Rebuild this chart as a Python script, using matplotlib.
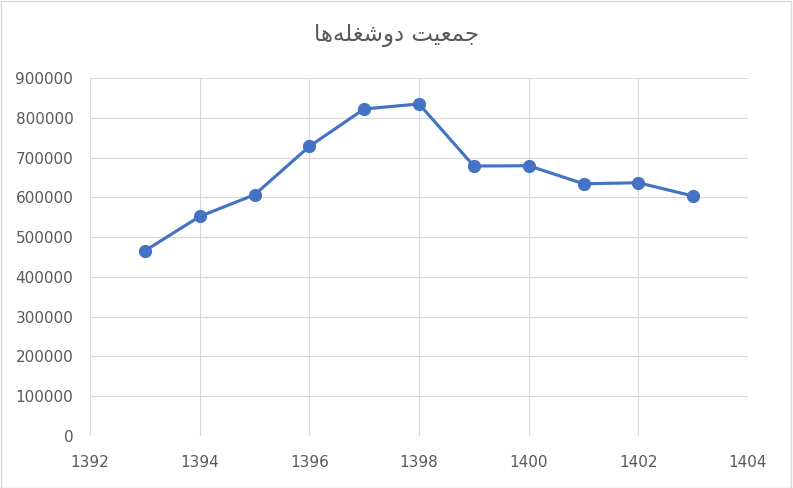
import matplotlib.pyplot as plt
from matplotlib.patches import Rectangle

# داده‌ها
years = [1393, 1394, 1395, 1396, 1397, 1398, 1399, 1400, 1401, 1402, 1403]
values = [465500, 551800, 606400, 728000, 822100, 834700, 678600, 679400, 634100, 636600, 603200]
title = "جمعیت دوشغله‌ها"

# matplotlib letters are not joined, so build the presentation forms by hand
# (isolated, final, initial, medial); None = letter does not join to the next one
forms = {
    "ج": ("\uFE9D", "\uFE9E", "\uFE9F", "\uFEA0"),
    "م": ("\uFEE1", "\uFEE2", "\uFEE3", "\uFEE4"),
    "ع": ("\uFEC9", "\uFECA", "\uFECB", "\uFECC"),
    "ی": ("\uFBFC", "\uFBFD", "\uFBFE", "\uFBFF"),
    "ت": ("\uFE95", "\uFE96", "\uFE97", "\uFE98"),
    "ش": ("\uFEB5", "\uFEB6", "\uFEB7", "\uFEB8"),
    "غ": ("\uFECD", "\uFECE", "\uFECF", "\uFED0"),
    "ل": ("\uFEDD", "\uFEDE", "\uFEDF", "\uFEE0"),
    "ه": ("\uFEE9", "\uFEEA", "\uFEEB", "\uFEEC"),
    "د": ("\uFEA9", "\uFEAA", None, None),
    "و": ("\uFEED", "\uFEEE", None, None),
    "ا": ("\uFE8D", "\uFE8E", None, None),
}


def shape(text):
    out = []
    for i, ch in enumerate(text):
        if ch not in forms:
            out.append(ch)
            continue
        prev = text[i - 1] if i > 0 else ""
        nxt = text[i + 1] if i + 1 < len(text) else ""
        join_prev = prev in forms and forms[prev][2] is not None
        join_next = nxt in forms and forms[ch][2] is not None
        if join_prev and join_next:
            out.append(forms[ch][3])
        elif join_prev:
            out.append(forms[ch][1])
        elif join_next:
            out.append(forms[ch][2])
        else:
            out.append(forms[ch][0])
    return "".join(c for c in reversed(out) if c != "\u200c")


gray = "#595959"
grid = "#D9D9D9"

fig = plt.figure(figsize=(7.93, 4.88), dpi=100)
ax = fig.add_axes([0.1135, 0.1066, 0.8298, 0.7336])

ax.plot(years, values, color="#4472C4", linewidth=2.25, marker="o",
        markersize=8.5, zorder=3)

ax.set_xlim(1392, 1404)
ax.set_ylim(0, 900000)
ax.set_xticks(range(1392, 1405, 2))
ax.set_yticks(range(0, 900001, 100000))
ax.grid(True, color=grid, linewidth=0.8)
ax.set_axisbelow(True)
for s in ax.spines.values():
    s.set_visible(False)
ax.tick_params(length=0, labelsize=11, labelcolor=gray)
ax.tick_params(axis="x", pad=14)
ax.tick_params(axis="y", pad=12)

fig.text(0.5, 0.928, shape(title), ha="center", va="center", fontsize=16.5,
         color=gray, family=["DejaVu Sans"])

fig.patches.append(Rectangle((0.001, 0.001), 0.997, 0.997, transform=fig.transFigure,
                             fill=False, edgecolor=grid, linewidth=1))

fig.savefig("out.png", dpi=100)
